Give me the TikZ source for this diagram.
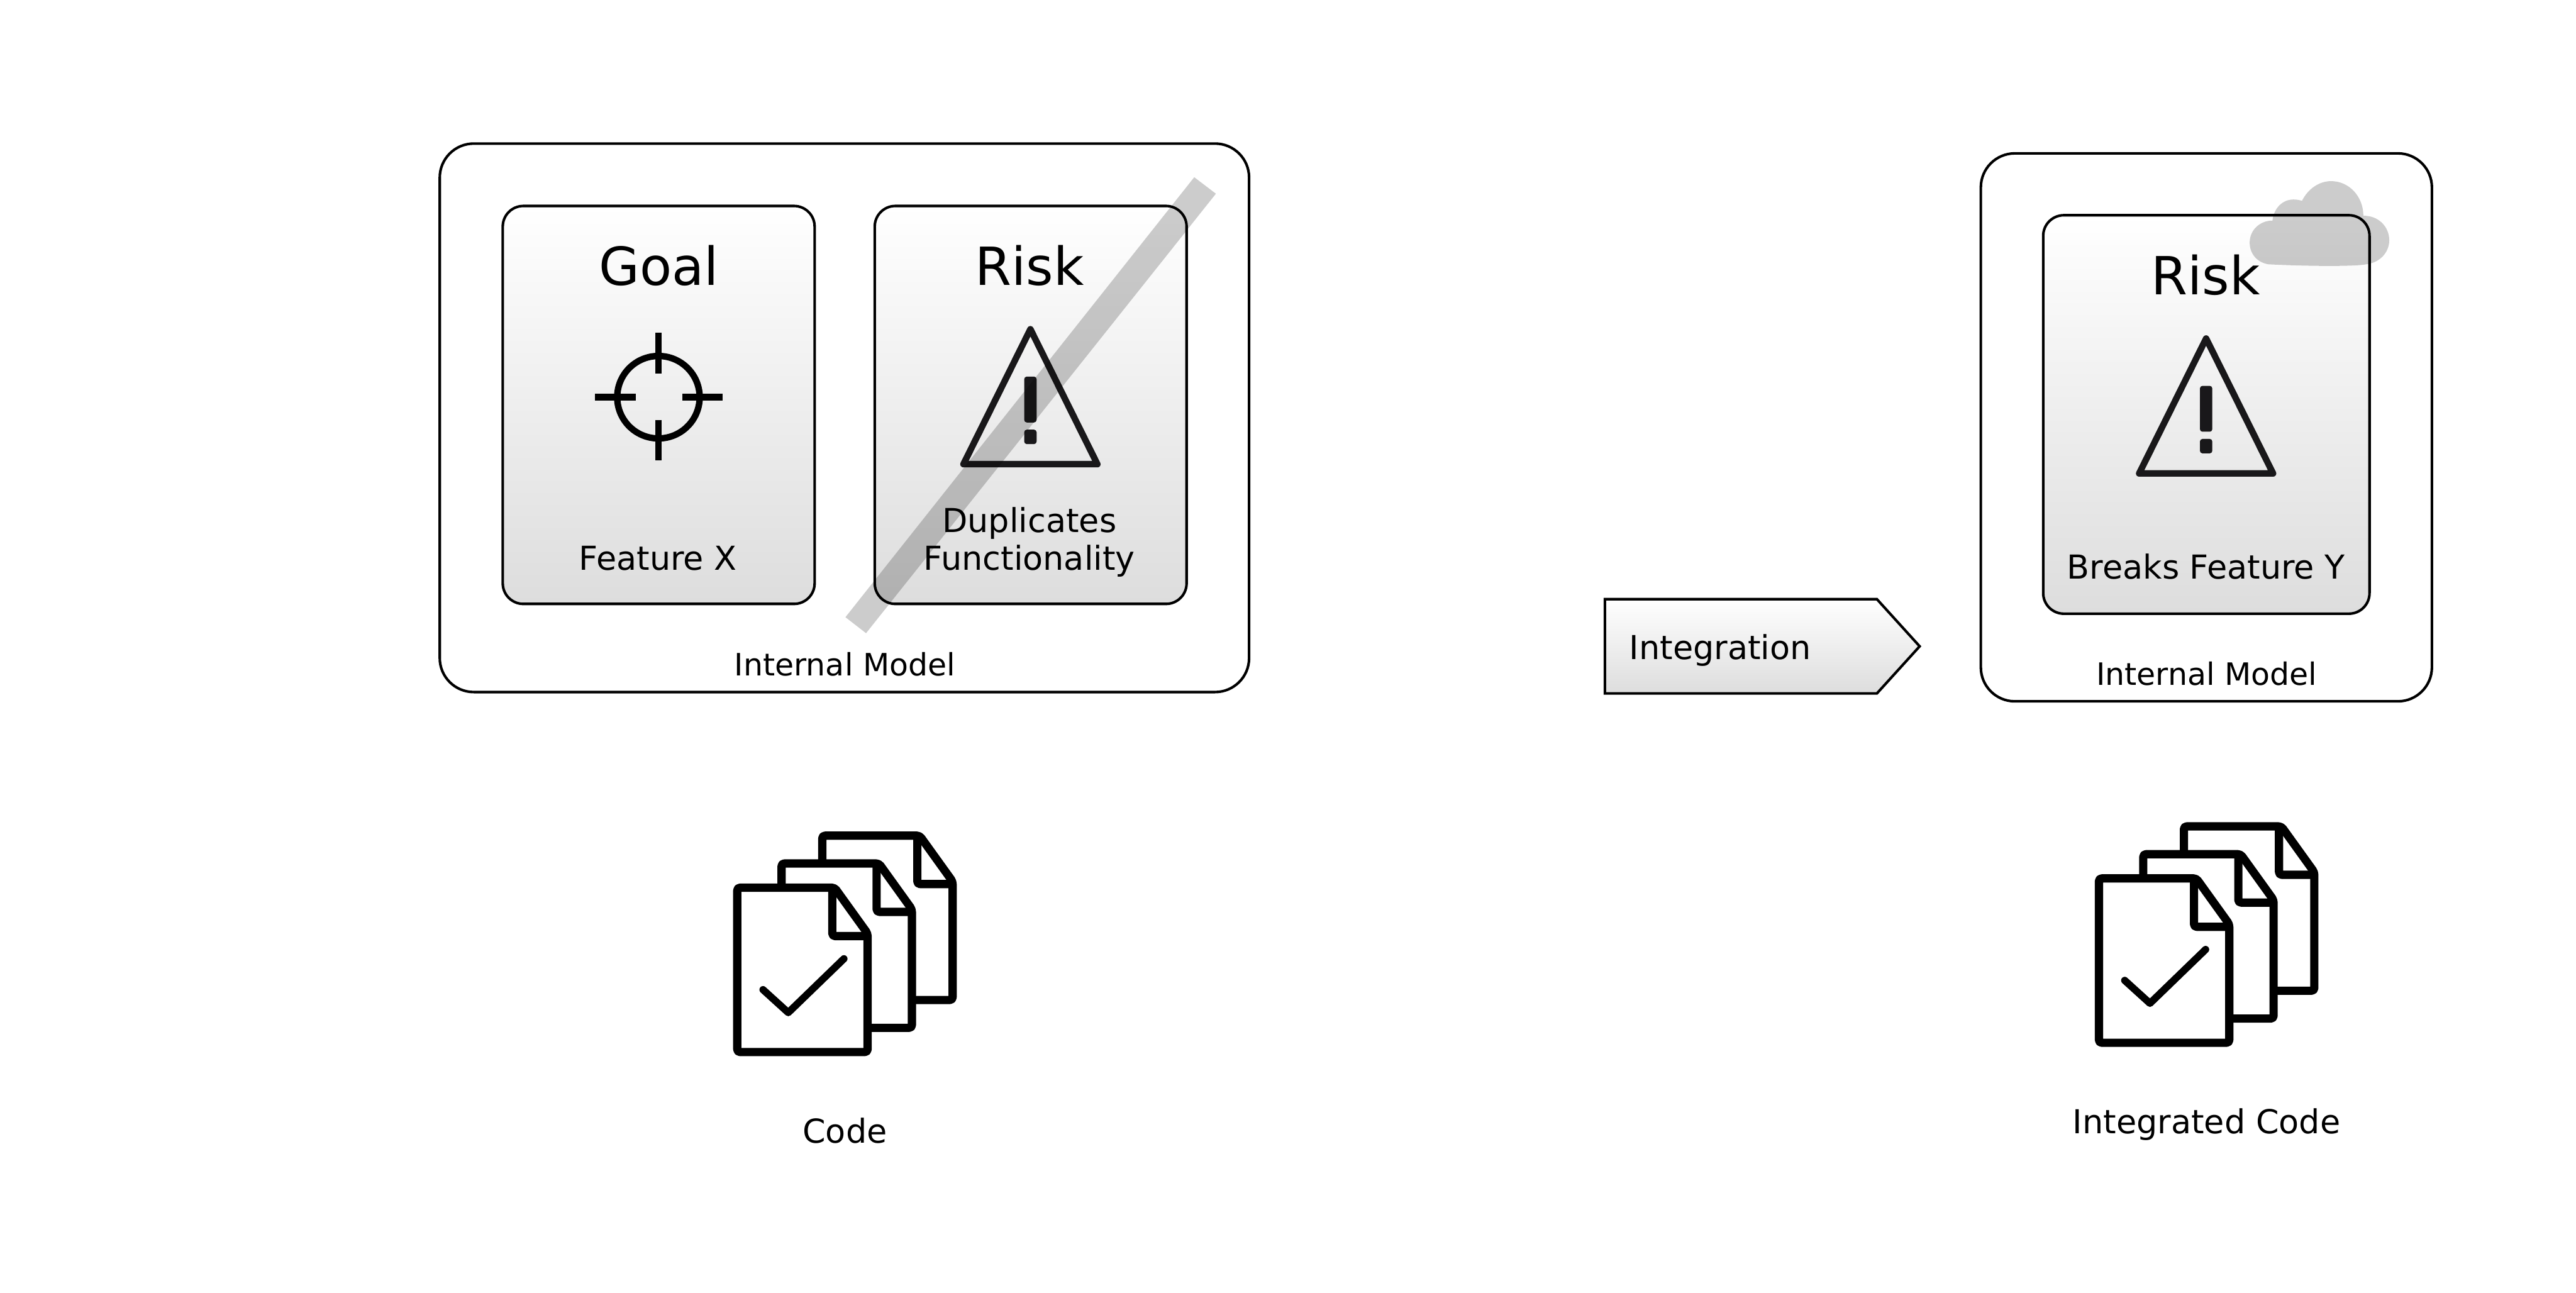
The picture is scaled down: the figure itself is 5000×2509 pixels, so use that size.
\documentclass[tikz,border=0pt]{standalone}
\usepackage{fontspec}
\setmainfont{DejaVu Sans}
\begin{document}
\begin{tikzpicture}[x=0.01cm,y=-0.01cm,
  outerbox/.style={draw=black,line width=0.05cm,fill=white,rounded corners=0.66cm,minimum width=#1,inner sep=0},
  cardbox/.style={draw=black,line width=0.05cm,top color=white,bottom color=cardgray,rounded corners=0.4cm,inner sep=0},
  title/.style={anchor=base,inner sep=0,font=\fontsize{29}{33}\selectfont},
  label/.style={anchor=base,inner sep=0,font=\fontsize{18.2}{20.7}\selectfont,align=center},
  modellabel/.style={anchor=base,inner sep=0,font=\fontsize{17}{20.7}\selectfont},
  icon/.style={line width=0.125cm,line join=round},
  docline/.style={line width=0.16cm,line join=round,fill=white,rounded corners=1.5pt},
  ghost/.style={fill=black,fill opacity=0.2},
  onedoc/.pic={
    \draw[docline] (0,0) -- (189,0) -- (253,89) -- (253,319) -- (0,319) -- cycle;
    \draw[docline,fill=none] (184.5,0) -- (184.5,94) -- (253,94);
  },
  docstack/.pic={
    \pic at (165,-101) {onedoc};
    \pic at (86,-47) {onedoc};
    \pic at (0,0) {onedoc};
    \draw[line width=0.14cm,line cap=round,line join=round] (50,198) -- (99,242.5) -- (207,138);
  },
  warn/.pic={
    \draw[icon,warnblack] (0,-132) -- (-130,130) -- (130,130) -- cycle;
    \fill[warnblack,rounded corners=1.4pt] (-12,-40) rectangle (12,49);
    \fill[warnblack,rounded corners=1.4pt] (-12,63) rectangle (12,91);
  }
]
\definecolor{cardgray}{HTML}{DDDDDD}
\definecolor{warnblack}{HTML}{19181A}
\useasboundingbox (0,0) rectangle (5000,2509);
\fill[white] (0,0) rectangle (5000,2509);

% left group
\node[outerbox=15.7cm,minimum height=10.64cm] (modelL) at (1639,811) {};
\node[cardbox,minimum width=6.05cm,minimum height=7.72cm] (goalcard) at (1278.5,786) {};
\node[cardbox,minimum width=6.05cm,minimum height=7.72cm] (riskcardL) at (2000.5,786) {};
\node[title] (goalT) at (1279,554) {Goal};
\node[title] (riskTL) at (1998,554) {Risk};
\draw[icon] (1278,771) circle[radius=80];
\draw[icon] (1155,771) -- (1234,771) (1325,771) -- (1403,771)
            (1278,646) -- (1278,725) (1278,816) -- (1278,894);
\node[label] (featX) at (1277,1106) {Feature X};
\pic at (2000,771) {warn};
\node[label] (dupA) at (1998,1033) {Duplicates};
\node[label] (dupB) at (1998,1106) {Functionality};
\node[modellabel] (modelLT) at (1640,1312) {Internal Model};
\fill[ghost] (2318,344) -- (2360,376) -- (1681,1229) -- (1641,1198) -- cycle;
\pic at (1431,1723) {docstack};
\node[label] (codeT) at (1640,2218) {Code};

% arrow
\draw[line width=0.05cm,line join=miter,top color=white,bottom color=cardgray]
  (3115,1163) -- (3643,1163) -- (3726,1254.5) -- (3643,1346) -- (3115,1346) -- cycle;
\node[label,anchor=base west] (integ) at (3162,1280) {Integration};

% right group
\node[outerbox=8.75cm,minimum height=10.63cm] (modelR) at (4282.5,829.5) {};
\node[cardbox,minimum width=6.33cm,minimum height=7.73cm] (riskcardR) at (4282.5,804.5) {};
\node[title] (riskTR) at (4281,572) {Risk};
\pic at (4282,789) {warn};
\node[label] (breaks) at (4282,1124) {Breaks Feature Y};
\node[modellabel] (modelRT) at (4283,1330) {Internal Model};
\begin{scope}[shift={(4300,320)},x=0.003333cm,y=-0.003333cm]
  \fill[ghost] (310,580) .. controls (245,570) and (200,520) .. (200,453)
    .. controls (200,380) and (260,325) .. (333,325)
    .. controls (340,255) and (390,202) .. (455,202)
    .. controls (475,202) and (490,205) .. (505,210)
    .. controls (540,140) and (605,95) .. (675,95)
    .. controls (780,95) and (863,185) .. (863,297)
    .. controls (950,295) and (1014,360) .. (1014,440)
    .. controls (1014,510) and (960,570) .. (880,580)
    .. controls (800,595) and (500,590) .. (310,580) -- cycle;
\end{scope}
\pic at (4074,1705) {docstack};
\node[label] (intCode) at (4283,2200) {Integrated Code};
\end{tikzpicture}
\end{document}
